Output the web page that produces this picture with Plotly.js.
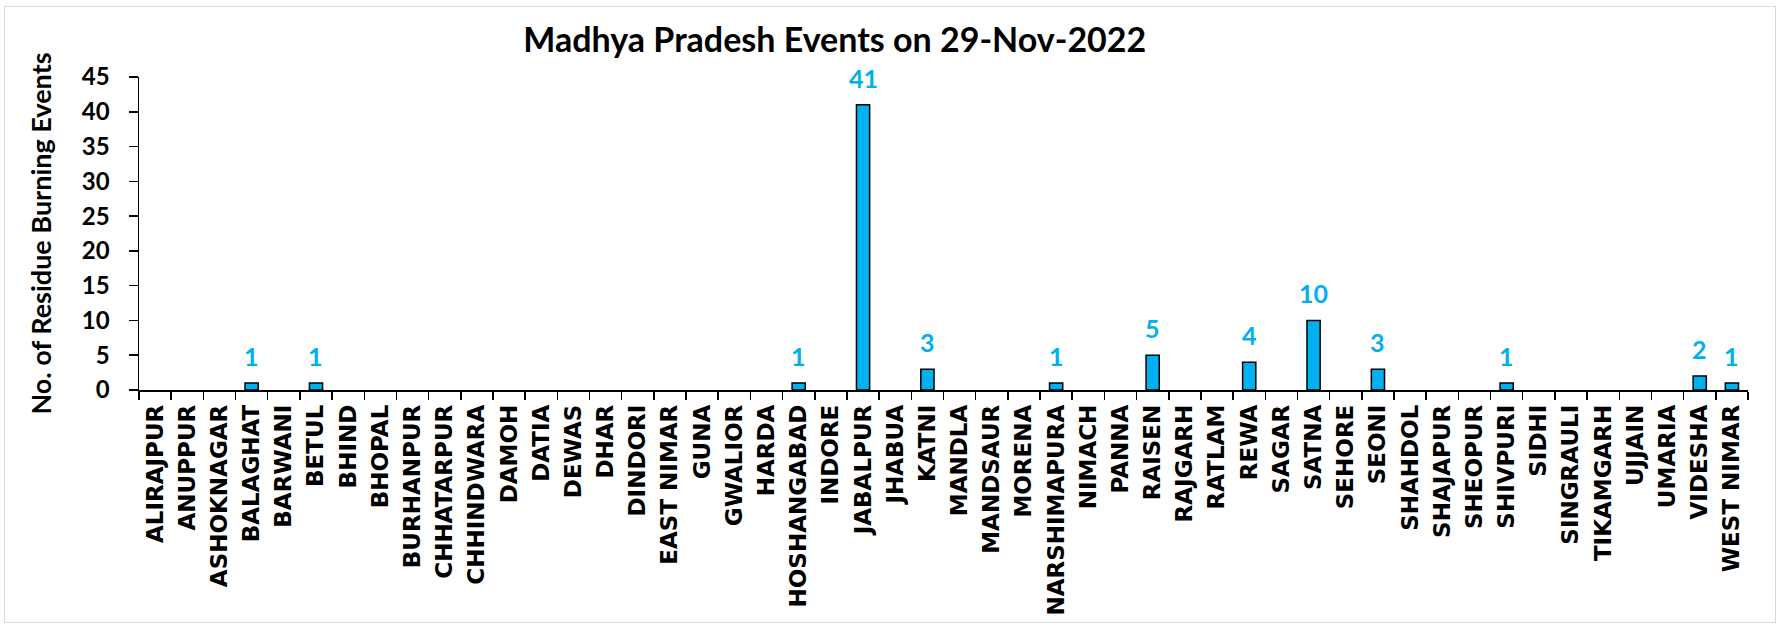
<!DOCTYPE html>
<html>
<head>
<meta charset="utf-8">
<script src="https://cdn.plot.ly/plotly-3.0.1.min.js"></script>
<style>
  html, body { margin: 0; padding: 0; background: #fff; }
  #wrap { position: relative; width: 1780px; height: 627px; }
  #chart { width: 1780px; height: 627px; }
  #frame { position: absolute; left: 4px; top: 6px; width: 1772px; height: 617px; border: 1px solid #d9d9d9; box-sizing: border-box; pointer-events: none; }
</style>
</head>
<body>
<div id="wrap">
  <div id="chart"></div>
  <div id="frame"></div>
</div>
<script>
const districts = ["ALIRAJPUR","ANUPPUR","ASHOKNAGAR","BALAGHAT","BARWANI","BETUL","BHIND","BHOPAL","BURHANPUR","CHHATARPUR","CHHINDWARA","DAMOH","DATIA","DEWAS","DHAR","DINDORI","EAST NIMAR","GUNA","GWALIOR","HARDA","HOSHANGABAD","INDORE","JABALPUR","JHABUA","KATNI","MANDLA","MANDSAUR","MORENA","NARSHIMAPURA","NIMACH","PANNA","RAISEN","RAJGARH","RATLAM","REWA","SAGAR","SATNA","SEHORE","SEONI","SHAHDOL","SHAJAPUR","SHEOPUR","SHIVPURI","SIDHI","SINGRAULI","TIKAMGARH","UJJAIN","UMARIA","VIDESHA","WEST NIMAR"];
const events = [0,0,0,1,0,1,0,0,0,0,0,0,0,0,0,0,0,0,0,0,1,0,41,0,3,0,0,0,1,0,0,5,0,0,4,0,10,0,3,0,0,0,1,0,0,0,0,0,2,1];
const yTicks = [0,5,10,15,20,25,30,35,40,45];

const barColor = "#00B0F0";
const labelColor = "#00B0F0";

const trace = {
  type: "bar",
  x: districts,
  y: events,
  marker: { color: barColor, line: { color: "#000000", width: events.map(v => v > 0 ? 1.5 : 0) } },
  width: 0.41,
  hoverinfo: "x+y"
};

const labelAnnotations = districts
  .map((d, i) => ({ d, v: events[i] }))
  .filter(o => o.v > 0)
  .map(o => ({
    x: o.d, y: o.v, xref: "x", yref: "y",
    text: String(o.v), showarrow: false,
    yanchor: "bottom", yshift: 10,
    font: { family: "Lato, sans-serif", size: 25, color: labelColor, weight: 700 }
  }));

const layout = {
  width: 1780, height: 627,
  margin: { l: 139, r: 32, t: 77, b: 237 },
  paper_bgcolor: "#ffffff",
  plot_bgcolor: "#ffffff",
  showlegend: false,
  title: {
    text: "Madhya Pradesh Events on 29-Nov-2022",
    font: { family: "Lato, sans-serif", size: 34, color: "#000000", weight: 700 },
    x: 0.469, xref: "container", xanchor: "center",
    y: 0.936, yref: "container", yanchor: "middle"
  },
  xaxis: {
    type: "category",
    tickangle: -90,
    tickson: "boundaries",
    ticks: "outside", ticklen: 8, tickwidth: 1.5, tickcolor: "#000",
    showline: true, linecolor: "#000", linewidth: 1.5,
    showgrid: false, zeroline: false,
    ticklabelstandoff: 4,
    tickfont: { family: "DejaVu Sans, sans-serif", size: 23, color: "#000", weight: 700 }
  },
  yaxis: {
    range: [0, 45],
    tickvals: yTicks,
    ticktext: yTicks.map(String),
    ticks: "outside", ticklen: 9, tickwidth: 1.5, tickcolor: "#000",
    showline: true, linecolor: "#000", linewidth: 1.5,
    showgrid: false, zeroline: false,
    ticklabelstandoff: 14,
    tickfont: { family: "Lato, sans-serif", size: 24, color: "#000", weight: 700 },
    title: {
      text: "No. of Residue Burning Events",
      font: { family: "Lato, sans-serif", size: 27, color: "#000", weight: 700 },
      standoff: 22
    }
  },
  annotations: labelAnnotations
};

Plotly.newPlot("chart", [trace], layout, { displayModeBar: false, staticPlot: true });
</script>
</body>
</html>
